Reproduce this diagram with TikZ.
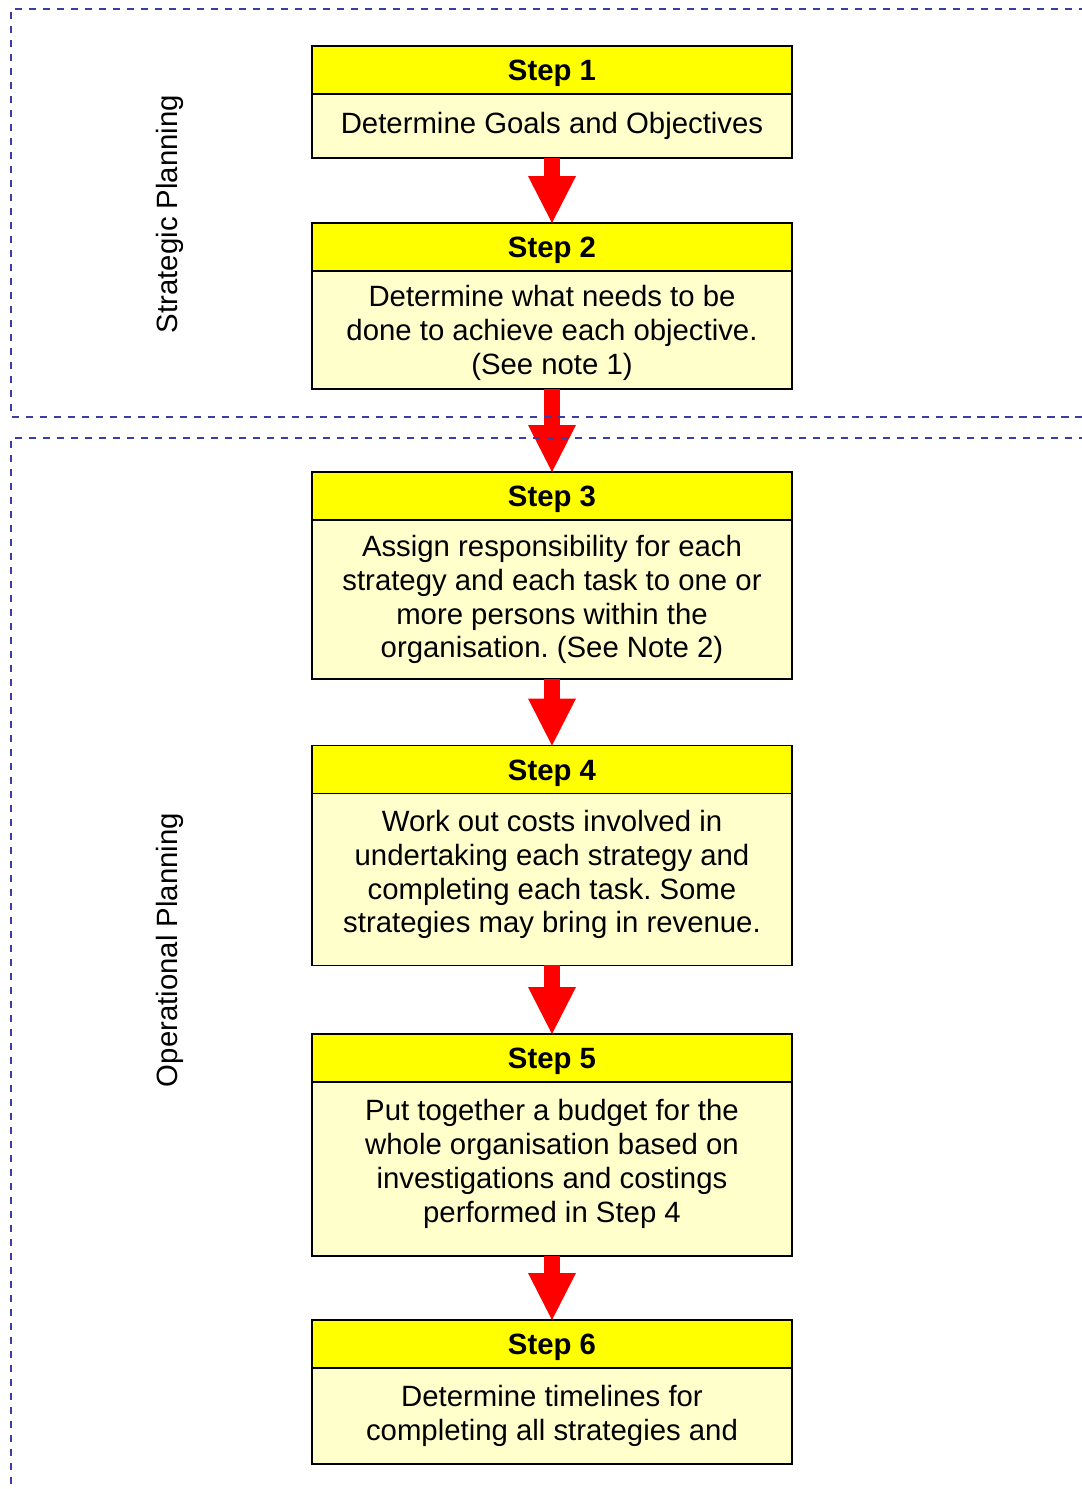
\documentclass[tikz,border=0pt]{standalone}
\usepackage{fontspec}
\setmainfont{Liberation Sans}
\usetikzlibrary{positioning,arrows.meta}
\definecolor{headyellow}{RGB}{255,255,0}
\definecolor{bodyyellow}{RGB}{255,255,204}
\definecolor{zoneblue}{RGB}{60,60,165}
\frenchspacing
\tikzset{
 stephead/.style={draw, line width=1.1pt, fill=headyellow, minimum width=9.6cm, minimum height=0.96cm,
   outer sep=0pt, text height=12pt, text depth=0pt, font=\fontsize{16.7}{19.3}\selectfont\bfseries},
 stepbody/.style={draw, line width=1.1pt, fill=bodyyellow, minimum width=9.6cm, outer sep=0pt,
   align=center, font=\fontsize{16.7}{19.3}\selectfont},
 flow/.style={draw=red, line width=0.32cm, -{Triangle[width=0.96cm, length=0.94cm, line width=0pt]}},
 zone/.style={draw=zoneblue, line width=1.1pt, dash pattern=on 0.15cm off 0.13cm},
 zonelabel/.style={rotate=90, font=\fontsize{16.7}{19.3}\selectfont}
}
\begin{document}
\begin{tikzpicture}[x=0.02cm, y=-0.02cm]
 \useasboundingbox (0,0) rectangle (1082,1489);
 \clip (0,0) rectangle (1082,1489);
 % steps
 \node[stephead] (h1) at (552,70) {Step 1};
 \node[stepbody, minimum height=1.28cm, below=0pt of h1] (b1) {Determine Goals and Objectives};
 \node[stephead] (h2) at (552,247) {Step 2};
 \node[stepbody, minimum height=2.36cm, below=0pt of h2, text depth=-2pt] (b2) {Determine what needs to be\\done to achieve each objective.\\(See note 1)};
 \node[stephead] (h3) at (552,496) {Step 3};
 \node[stepbody, minimum height=3.18cm, below=0pt of h3] (b3) {Assign responsibility for each\\strategy and each task to one or\\more persons within the\\organisation. (See Note 2)};
 \node[stephead] (h4) at (552,769.5) {Step 4};
 \node[stepbody, minimum height=3.44cm, below=0pt of h4, text depth=0.32cm] (b4) {Work out costs involved in\\undertaking each strategy and\\completing each task. Some\\strategies may bring in revenue.};
 \node[stephead] (h5) at (552,1058) {Step 5};
 \node[stepbody, minimum height=3.48cm, below=0pt of h5, text depth=0.32cm] (b5) {Put together a budget for the\\whole organisation based on\\investigations and costings\\performed in Step 4};
 \node[stephead] (h6) at (552,1344) {Step 6};
 \node[stepbody, minimum height=1.92cm, below=0pt of h6] (b6) {Determine timelines for\\completing all strategies and};
 % arrows
 \draw[flow] (b1) -- (h2);
 \draw[flow] (b2) -- (h3);
 \draw[flow] (b3) -- (h4);
 \draw[flow] (b4) -- (h5);
 \draw[flow] (b5) -- (h6);
 % planning zones
 \draw[zone] (1100,9) -- (11,9) -- (11,417) -- (1100,417);
 \draw[zone] (1100,438) -- (11,438) -- (11,1500);
 \node[zonelabel] (sp) at (170,214) {Strategic Planning};
 \node[zonelabel] (op) at (170,950) {Operational Planning};
\end{tikzpicture}
\end{document}
